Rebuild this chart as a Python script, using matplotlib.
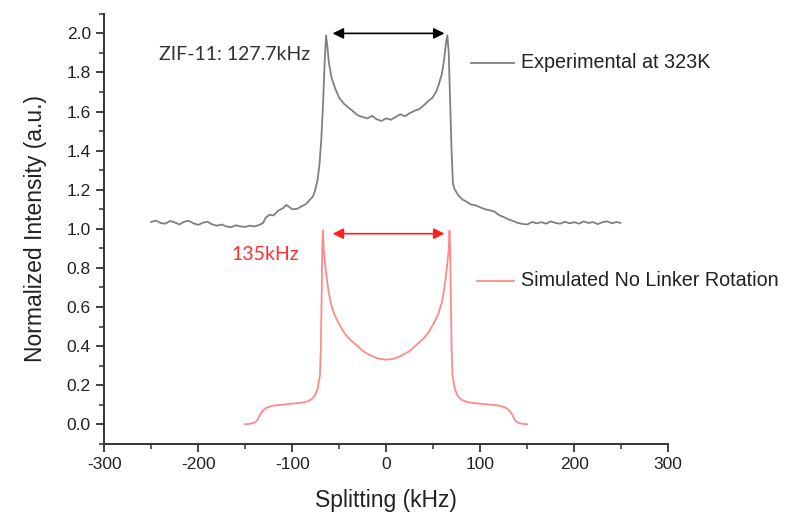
import matplotlib
matplotlib.use("Agg")
import matplotlib.pyplot as plt
from matplotlib.ticker import MultipleLocator

plt.rcParams["font.family"] = ["Liberation Sans", "DejaVu Sans"]
plt.rcParams["axes.unicode_minus"] = False

# Experimental 2H spectrum at 323 K (offset by +1.0)
exp_x = [-250, -245, -240, -235, -230, -225, -220, -215, -210, -205,
         -200, -195, -190, -185, -180, -175, -170, -165, -160, -155,
         -150, -145, -140, -135, -131, -128, -124, -120, -115, -110,
         -106, -100, -95, -90, -85, -81, -78, -76, -73, -71,
         -69, -67, -65.5, -64, -62.5, -61, -58, -54, -50, -45,
         -40, -35, -30, -25, -20, -15, -10, -5, 0, 5,
         10, 15, 20, 25, 30, 35, 40, 45, 49, 53,
         56, 59, 61.5, 63.5, 65, 66.5, 68, 69.5, 71, 73,
         77, 81, 85, 90, 95, 100, 105, 110, 115, 120,
         125, 130, 135, 140, 145, 150, 155, 160, 165, 170,
         175, 180, 185, 190, 195, 200, 205, 210, 215, 220,
         225, 230, 235, 240, 245, 249]
exp_y = [1.035, 1.042, 1.030, 1.026, 1.040, 1.033, 1.022, 1.036, 1.041, 1.028,
         1.020, 1.031, 1.036, 1.022, 1.016, 1.022, 1.012, 1.008, 1.018, 1.012,
         1.010, 1.016, 1.012, 1.020, 1.030, 1.058, 1.072, 1.068, 1.092, 1.105,
         1.122, 1.100, 1.102, 1.115, 1.128, 1.150, 1.165, 1.190, 1.250, 1.330,
         1.460, 1.660, 1.850, 1.990, 1.930, 1.850, 1.770, 1.715, 1.670, 1.640,
         1.620, 1.600, 1.580, 1.572, 1.565, 1.578, 1.560, 1.552, 1.565, 1.558,
         1.572, 1.586, 1.576, 1.592, 1.604, 1.612, 1.632, 1.655, 1.670, 1.700,
         1.740, 1.790, 1.860, 1.950, 1.990, 1.900, 1.650, 1.400, 1.230, 1.200,
         1.170, 1.150, 1.140, 1.125, 1.120, 1.110, 1.100, 1.095, 1.088, 1.070,
         1.060, 1.048, 1.040, 1.030, 1.025, 1.022, 1.035, 1.028, 1.034, 1.026,
         1.038, 1.030, 1.026, 1.036, 1.028, 1.034, 1.026, 1.038, 1.030, 1.034,
         1.024, 1.034, 1.038, 1.028, 1.035, 1.030]

# Simulated spectrum, no linker rotation
sim_x = [-150, -145, -140, -137, -134, -131, -127, -120, -110, -100,
         -90, -85, -80, -76, -73, -70.5, -69.5, -68.7, -68, -67.3,
         -66.5, -65, -63, -61, -59, -55, -51, -45, -40, -33,
         -25, -16, -8, 0, 8, 16, 25, 33, 40, 45,
         51, 55, 59, 61, 63, 65, 66.5, 67.3, 68, 68.7,
         69.5, 70.5, 73, 76, 80, 85, 90, 100, 110, 120,
         127, 131, 134, 137, 140, 145, 150]
sim_y = [0.000, 0.002, 0.008, 0.020, 0.050, 0.070, 0.085, 0.095, 0.100, 0.105,
         0.110, 0.115, 0.125, 0.145, 0.180, 0.250, 0.400, 0.650, 0.900, 0.990,
         0.900, 0.820, 0.740, 0.670, 0.620, 0.560, 0.520, 0.470, 0.440, 0.410,
         0.375, 0.350, 0.335, 0.330, 0.335, 0.350, 0.375, 0.410, 0.440, 0.470,
         0.520, 0.560, 0.620, 0.670, 0.740, 0.820, 0.900, 0.990, 0.900, 0.650,
         0.400, 0.250, 0.180, 0.145, 0.125, 0.115, 0.110, 0.105, 0.100, 0.095,
         0.085, 0.070, 0.050, 0.020, 0.008, 0.002, 0.000]

exp_color = "#808080"
sim_color = "#ff8a8a"

fig = plt.figure(figsize=(7.89, 5.13), dpi=100)
ax = fig.add_axes([0.132, 0.135, 0.715, 0.838])

ax.plot(exp_x, exp_y, color=exp_color, lw=1.3)
ax.plot(sim_x, sim_y, color=sim_color, lw=1.3)

ax.set_xlim(-300, 300)
ax.set_ylim(-0.1, 2.1)
ax.xaxis.set_major_locator(MultipleLocator(100))
ax.xaxis.set_minor_locator(MultipleLocator(50))
ax.yaxis.set_minor_locator(MultipleLocator(0.1))
ax.yaxis.set_major_formatter(plt.FormatStrFormatter("%.1f"))
ax.set_yticks([0.0, 0.2, 0.4, 0.6, 0.8, 1.0, 1.2, 1.4, 1.6, 1.8, 2.0])

for s in ["top", "right"]:
    ax.spines[s].set_visible(False)
for s in ["left", "bottom"]:
    ax.spines[s].set_linewidth(1.4)
    ax.spines[s].set_color("#333333")

ax.tick_params(which="major", direction="out", length=6, width=1.3,
               labelsize=12.5, colors="#333333", labelcolor="#222222")
ax.tick_params(which="minor", direction="out", length=3.5, width=1.1,
               colors="#333333")

ax.set_xlabel("Splitting (kHz)", fontsize=16.5, color="#222222", labelpad=12)
ax.set_ylabel("Normalized Intensity (a.u.)", fontsize=16.5, color="#222222", labelpad=14)

# splitting arrows
ax.annotate("", xy=(-57, 2.0), xytext=(62, 2.0),
            arrowprops=dict(arrowstyle="<|-|>", color="black", lw=1.2,
                            mutation_scale=16, shrinkA=0, shrinkB=0))
ax.annotate("", xy=(-57, 0.975), xytext=(62, 0.975),
            arrowprops=dict(arrowstyle="<|-|>", color="#ff2020", lw=1.2,
                            mutation_scale=16, shrinkA=0, shrinkB=0))

ax.text(-242, 1.89, "ZIF-11: 127.7kHz", fontsize=14, color="#333333",
        family=["Lato", "DejaVu Sans"], va="center", ha="left")
ax.text(-165, 0.87, "135kHz", fontsize=14, color="#ff3030",
        family=["Lato", "DejaVu Sans"], va="center", ha="left")

# in-plot legend entries
ax.plot([90, 136], [1.851, 1.851], color=exp_color, lw=1.3, clip_on=False)
ax.text(143, 1.851, "Experimental at 323K", fontsize=14.2, color="#222222",
        va="center", ha="left")
ax.plot([97, 136], [0.735, 0.735], color=sim_color, lw=1.3, clip_on=False)
ax.text(143, 0.735, "Simulated No Linker Rotation", fontsize=14.2, color="#222222",
        va="center", ha="left", clip_on=False)

fig.savefig("out.png", dpi=100)
